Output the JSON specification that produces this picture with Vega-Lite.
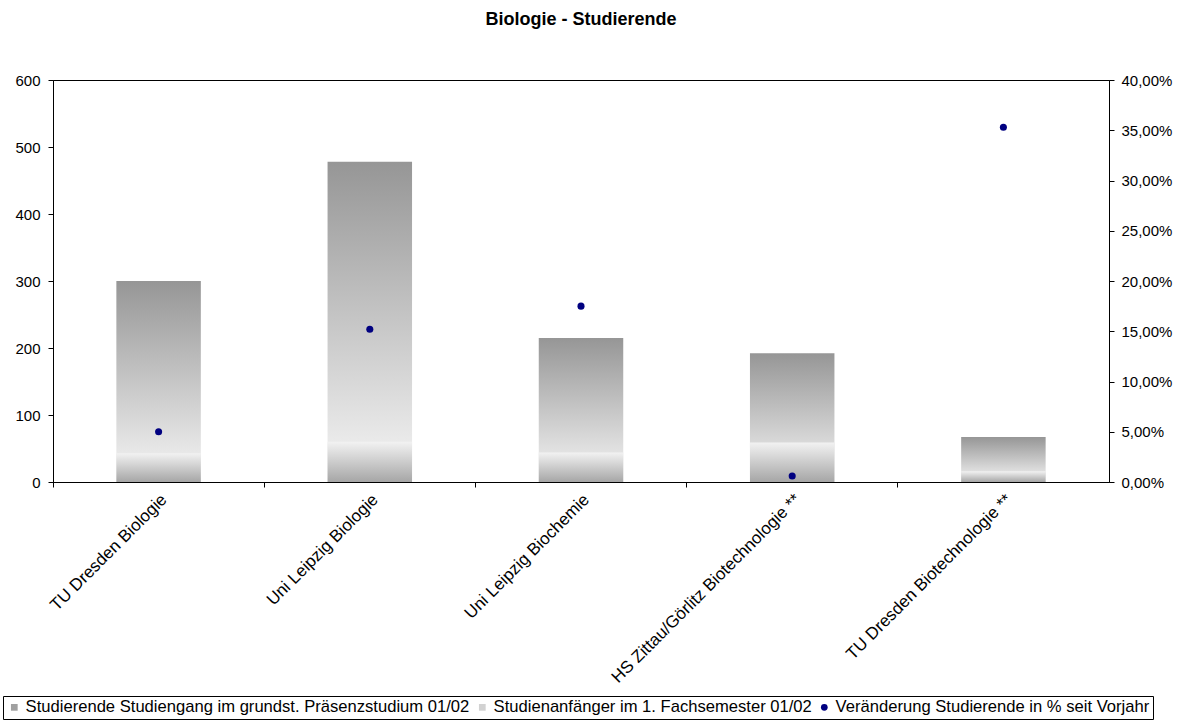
{
  "$schema": "https://vega.github.io/schema/vega-lite/v6.json",
  "width": 1056,
  "height": 402,
  "autosize": {"type": "none"},
  "padding": {"left": 53, "top": 80, "right": 73, "bottom": 240},
  "background": "white",
  "title": {"text": "Biologie - Studierende", "fontSize": 18, "fontWeight": "bold", "font": "Liberation Sans", "offset": 44, "anchor": "middle", "color": "black"},
  "config": {
    "font": "Liberation Sans",
    "view": {"stroke": "black", "strokeWidth": 1},
    "axis": {"domainColor": "black", "tickColor": "black", "labelColor": "black", "labelFontSize": 15, "labelFont": "Liberation Sans", "grid": false, "title": null, "tickSize": 5}
  },
  "data": {"values": [
    {"label": "TU Dresden Biologie", "studierende": 300, "anfaenger": 43, "veraenderung": 0.05},
    {"label": "Uni Leipzig Biologie", "studierende": 478, "anfaenger": 60, "veraenderung": 0.152},
    {"label": "Uni Leipzig Biochemie", "studierende": 215, "anfaenger": 44, "veraenderung": 0.175},
    {"label": "HS Zittau/Görlitz Biotechnologie **", "studierende": 192, "anfaenger": 59, "veraenderung": 0.006},
    {"label": "TU Dresden Biotechnologie **", "studierende": 67, "anfaenger": 16, "veraenderung": 0.353}
  ]},
  "layer": [
    {
      "layer": [
        {
          "mark": {"type": "bar", "width": {"band": 0.4}, "fill": {"gradient": "linear", "x1": 0, "y1": 0, "x2": 0, "y2": 1, "stops": [{"offset": 0, "color": "#969696"}, {"offset": 1, "color": "#f6f6f6"}]}},
          "encoding": {
            "x": {"field": "label", "type": "nominal", "sort": null, "scale": {"paddingInner": 0, "paddingOuter": 0},
                  "axis": {"labelAngle": -45, "bandPosition": 0, "labelPadding": 4, "labelFontSize": 17, "labelLimit": 400}},
            "y": {"field": "studierende", "type": "quantitative", "scale": {"domain": [0, 600], "nice": false},
                  "axis": {"values": [0, 100, 200, 300, 400, 500, 600], "labelPadding": 8}}
          }
        },
        {
          "mark": {"type": "bar", "width": {"band": 0.4}, "fill": {"gradient": "linear", "x1": 0, "y1": 0, "x2": 0, "y2": 1, "stops": [{"offset": 0, "color": "#f2f2f2"}, {"offset": 1, "color": "#a6a6a6"}]}},
          "encoding": {
            "x": {"field": "label", "type": "nominal", "sort": null},
            "y": {"field": "anfaenger", "type": "quantitative"}
          }
        },
        {
          "data": {"values": [
            {"series": "Studierende Studiengang im grundst. Präsenzstudium 01/02"},
            {"series": "Studienanfänger im 1. Fachsemester 01/02"},
            {"series": "Veränderung Studierende in % seit Vorjahr"}
          ]},
          "mark": {"type": "point", "filled": true, "opacity": 0},
          "encoding": {
            "color": {"field": "series", "type": "nominal", "sort": null,
              "scale": {"domain": ["Studierende Studiengang im grundst. Präsenzstudium 01/02", "Studienanfänger im 1. Fachsemester 01/02", "Veränderung Studierende in % seit Vorjahr"], "range": ["#a0a0a0", "#d2d2d2", "#000080"]},
              "legend": {"orient": "none", "legendX": -50, "legendY": 616, "direction": "horizontal", "columns": 3, "title": null, "labelFontSize": 16.6, "labelColor": "black", "labelLimit": 700, "symbolSize": 45, "symbolOpacity": 1, "strokeColor": "black", "padding": 3, "columnPadding": 4, "labelOffset": 3}},
            "shape": {"field": "series", "type": "nominal", "sort": null,
              "scale": {"domain": ["Studierende Studiengang im grundst. Präsenzstudium 01/02", "Studienanfänger im 1. Fachsemester 01/02", "Veränderung Studierende in % seit Vorjahr"], "range": ["square", "square", "circle"]},
              "legend": {"orient": "none", "legendX": -50, "legendY": 616, "direction": "horizontal", "columns": 3, "title": null, "labelFontSize": 16.6, "labelColor": "black", "labelLimit": 700, "symbolSize": 45, "symbolOpacity": 1, "strokeColor": "black", "padding": 3, "columnPadding": 4, "labelOffset": 3}}
          }
        }
      ]
    },
    {
      "mark": {"type": "point", "filled": true, "color": "#000080", "size": 50, "opacity": 1},
      "encoding": {
        "x": {"field": "label", "type": "nominal", "sort": null},
        "y": {"field": "veraenderung", "type": "quantitative", "scale": {"domain": [0, 0.4], "nice": false},
              "axis": {"orient": "right", "values": [0, 0.05, 0.1, 0.15, 0.2, 0.25, 0.3, 0.35, 0.4], "labelExpr": "replace(format(datum.value, '.2%'), '.', ',')", "labelPadding": 7}}
      }
    }
  ],
  "resolve": {"scale": {"y": "independent"}}
}
